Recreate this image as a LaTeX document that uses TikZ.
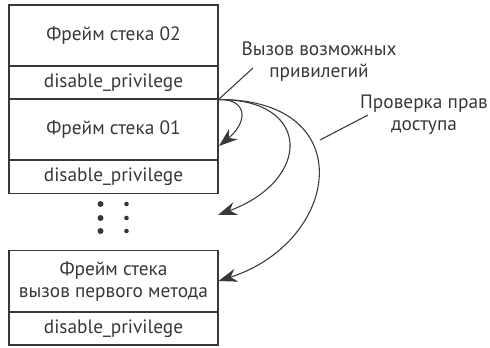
\documentclass[tikz,border=0pt]{standalone}
\usepackage{fontspec}
\setmainfont{PT Sans}
\usetikzlibrary{arrows.meta}

\definecolor{ink}{HTML}{383838}

\tikzset{
  frame/.style={draw=ink, thick, minimum width=209*0.75pt, minimum height=61*0.75pt,
    inner sep=0pt, align=center, text=ink, font=\fontsize{14.5}{16.5}\selectfont},
  priv/.style={frame, minimum height=33*0.75pt},
  call/.style={ink, thick, -{Stealth[length=14pt,width=10pt]}},
  lead/.style={ink, thick},
  note/.style={text=ink, align=center, font=\fontsize{14.5}{16.5}\selectfont}
}

\begin{document}
\begin{tikzpicture}[x=0.75pt,y=-0.75pt]
\useasboundingbox (0,0) rectangle (490,347);

% stack frames
\node[frame] (frame02) at (113.5,35.5) {Фрейм стека 02};
\node[priv]  (priv02)  at (113.5,82.5) {disable\_privilege};
\node[frame] (frame01) at (113.5,129.5) {Фрейм стека 01};
\node[priv]  (priv01)  at (113.5,177) {disable\_privilege};
\node[frame] (frame00) at (113.5,281) {Фрейм стека\\вызов первого метода};
\node[priv]  (priv00)  at (113.5,328.5) {disable\_privilege};

% dots between frames
\foreach \y in {204,218,231}{
  \fill[ink] (100.5,\y) circle[radius=3];
  \fill[ink] (126.5,\y) circle[radius=2.3];
}

\coordinate (start) at (priv02.south east);
\coordinate (tip1) at (219,146);
\coordinate (tip2) at (218,215);
\coordinate (tip0) at (frame00.east);

\draw[call] (start) .. controls (248,99) and (248,122) .. (tip1);
\draw[call] (start) .. controls (312,99) and (312,180) .. (tip2);
\draw[call] (start) .. controls (362,99) and (340,242) .. (tip0);

% labels
\node[note] (calllbl) at (319,62) {Вызов возможных\\привилегий};
\node[note] (checklbl) at (424,115) {Проверка прав\\доступа};
\coordinate (callend) at (253,68);
\coordinate (checkpt) at (320,140);
\coordinate (checkend) at (368,115);
\draw[lead] (start) -- (callend);
\draw[lead] (checkpt) -- (checkend);
\end{tikzpicture}
\end{document}
